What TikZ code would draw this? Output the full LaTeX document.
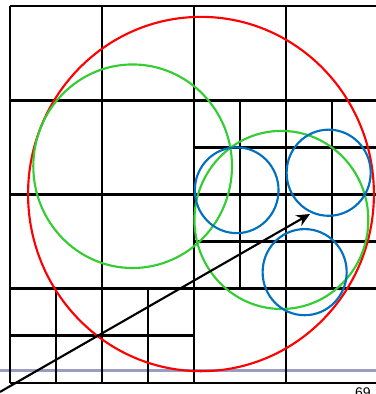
\documentclass[tikz,border=0pt]{standalone}
\usepackage{fontspec}
\setsansfont{Liberation Sans}
\usepackage{tikz}
\usetikzlibrary{arrows.meta}
\definecolor{outerc}{HTML}{FF0000}
\definecolor{midc}{HTML}{33CC33}
\definecolor{leafc}{HTML}{0070C0}
\definecolor{basec}{HTML}{9A9CC0}
\tikzset{
  qline/.style={draw=black,line width=2.1pt},
  rcirc/.style={draw=outerc,line width=1.6pt},
  gcirc/.style={draw=midc,line width=1.6pt},
  bcirc/.style={draw=leafc,line width=1.6pt},
  baseline/.style={draw=basec,line width=1.8pt},
  query/.style={-{Stealth[length=10pt,width=9pt]},line width=1.6pt,draw=black},
  pnum/.style={font=\sffamily\fontsize{10.5}{12}\selectfont,inner sep=0pt},
}
\begin{document}
\begin{tikzpicture}[x=69pt,y=70.69pt]
  \useasboundingbox (-0.109,-0.117) rectangle (3.978,4.064);
  % base line
  \draw[baseline] (-0.3,0.133) -- (4.2,0.133);
  % coarse cells
  \foreach \i in {0,...,4}{
    \draw[qline] (\i,0) -- (\i,4);
    \draw[qline] (0,\i) -- (4,\i);
  }
  % refined cells, bottom left and right middle
  \foreach \x in {0.5,1.5}
    \draw[qline] (\x,0) -- (\x,1);
  \draw[qline] (0,0.5) -- (2,0.5);
  \foreach \x in {2.5,3.5}
    \draw[qline] (\x,1) -- (\x,3);
  \foreach \y in {1.5,2.5}
    \draw[qline] (2,\y) -- (4,\y);
  % bounding circles
  \draw[rcirc] (2.076,2.005) circle[radius=1.88];
  \draw[gcirc] (1.333,2.30) circle[radius=1.08];
  \draw[gcirc] (2.95,1.73) circle[radius=0.945];
  \draw[bcirc] (2.464,2.045) circle[radius=0.455];
  \draw[bcirc] (3.464,2.231) circle[radius=0.457];
  \draw[bcirc] (3.203,1.176) circle[radius=0.457];
  % query ray
  \coordinate (qstart) at (-0.109,-0.095);
  \coordinate (qtip) at (3.261,1.793);
  \draw[query] (qstart) -- (qtip);
  \node[pnum,anchor=north] (pagenum) at (3.837,-0.045) {69};
\end{tikzpicture}
\end{document}
